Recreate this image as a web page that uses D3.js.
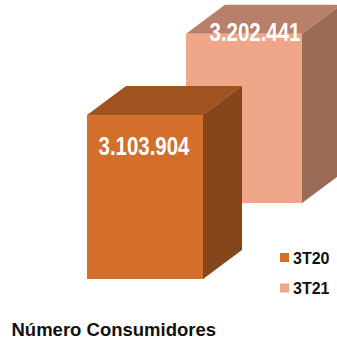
<!DOCTYPE html>
<html>
<head>
<meta charset="utf-8">
<script src="https://cdn.jsdelivr.net/npm/d3@7.9.0/dist/d3.min.js"></script>
<style>
  html, body { margin: 0; padding: 0; background: #fff; }
  svg { display: block; font-family: "Liberation Sans", Arial, sans-serif; }
</style>
</head>
<body>
<svg id="chart" width="337" height="341"></svg>
<script>
// data
const series = ["3T20", "3T21"];
const values = [3103904, 3202441];
const valueLabels = ["3.103.904", "3.202.441"];
const title = "Número Consumidores";

// colours per series: front, top, side
const frontColors = ["#D36E2B", "#F0A688"];
const topColors = ["#A0531F", "#B8806A"];
const sideColors = ["#84461A", "#9A6B57"];

const svg = d3.select("#chart");

// oblique projection: series are laid out in depth
const origin = { x: 87, y: 279 };
const depthVec = { x: 99, y: -76 };   // offset between the two series rows
const boxDepth = { x: 39, y: -29 };   // depth of one box
const barWidth = 116;

const z = d3.scalePoint().domain(series).range([0, 1]);
const h = d3.scaleLinear().domain([0, 3200000]).range([0, 169]);

const bars = series.map((s, i) => {
  const x0 = origin.x + z(s) * depthVec.x;
  const yb = origin.y + z(s) * depthVec.y;
  const yt = yb - h(values[i]);
  return { s, i, x0, x1: x0 + barWidth, yb, yt };
});

const pts = a => a.map(p => p.join(",")).join(" ");

// draw back row first
const g = svg.append("g");
g.selectAll("g.bar")
  .data(bars.slice().reverse())
  .join("g")
  .attr("class", "bar")
  .each(function (b) {
    const el = d3.select(this);
    const dx = boxDepth.x, dy = boxDepth.y;
    el.append("polygon")
      .attr("points", pts([[b.x1, b.yt], [b.x1 + dx, b.yt + dy], [b.x1 + dx, b.yb + dy], [b.x1, b.yb]]))
      .attr("fill", sideColors[b.i]);
    el.append("polygon")
      .attr("points", pts([[b.x0, b.yt], [b.x0 + dx, b.yt + dy], [b.x1 + dx, b.yt + dy], [b.x1, b.yt]]))
      .attr("fill", topColors[b.i]);
    el.append("rect")
      .attr("x", b.x0).attr("y", b.yt)
      .attr("width", barWidth).attr("height", b.yb - b.yt)
      .attr("fill", frontColors[b.i]);
  });

// value labels
const labelShift = [{ dx: -1, dy: 40 }, { dx: 11, dy: 7 }];
svg.selectAll("text.val")
  .data(bars)
  .join("text")
  .attr("class", "val")
  .attr("x", b => (b.x0 + b.x1) / 2 + labelShift[b.i].dx)
  .attr("y", b => b.yt + labelShift[b.i].dy)
  .attr("text-anchor", "middle")
  .attr("fill", "#fff")
  .attr("font-weight", "bold")
  .attr("font-size", 26)
  .attr("textLength", 91)
  .attr("lengthAdjust", "spacingAndGlyphs")
  .style("font-family", "'Liberation Sans Narrow', 'Liberation Sans', Arial, sans-serif")
  .text(b => valueLabels[b.i]);

// legend
const legend = svg.append("g").attr("transform", "translate(280,253)");
const item = legend.selectAll("g")
  .data(series)
  .join("g")
  .attr("transform", (d, i) => `translate(0,${i * 30.5})`);
item.append("rect")
  .attr("width", 9).attr("height", 9)
  .attr("fill", (d, i) => frontColors[i]);
item.append("text")
  .attr("x", 13).attr("y", 10.5)
  .attr("font-size", 16)
  .attr("font-weight", "bold")
  .attr("fill", "#111")
  .text(d => d);

// title
svg.append("text")
  .attr("x", 11.5).attr("y", 336)
  .attr("font-size", 18.5)
  .attr("font-weight", "bold")
  .attr("fill", "#111")
  .text(title);
</script>
</body>
</html>
